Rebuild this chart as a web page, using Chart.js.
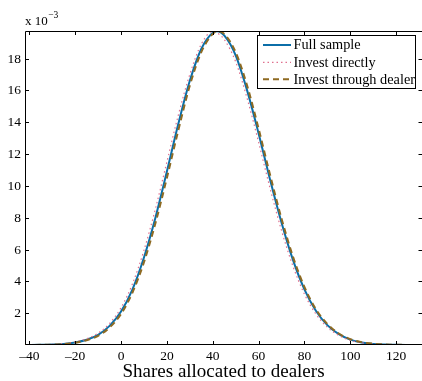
<!DOCTYPE html>
<html>
<head>
<meta charset="utf-8">
<script src="https://cdn.jsdelivr.net/npm/chart.js@4/dist/chart.umd.min.js"></script>
<style>
html,body{margin:0;padding:0;background:#fff;}
#wrap{position:relative;width:422px;height:381px;}
</style>
</head>
<body>
<div id="wrap"><canvas id="c" width="422" height="381"></canvas></div>
<script>
// x positions (shares allocated to dealers)
const xValues = [-42, -40, -35, -30, -25, -20, -15, -10, -5, 0, 5, 10, 15, 20, 25, 30, 35, 40, 42, 45, 50, 55, 60, 65, 70, 75, 80, 85, 90, 95, 100, 105, 110, 115, 120, 125, 130, 132];
// densities, in units of 10^-3
const fullSample = [0.004, 0.005, 0.012, 0.03, 0.07, 0.16, 0.33, 0.64, 1.2, 2.1, 3.5, 5.5, 8.0, 10.9, 13.9, 16.6, 18.6, 19.62, 19.72, 19.45, 18.2, 16.0, 13.3, 10.4, 7.7, 5.35, 3.5, 2.15, 1.25, 0.68, 0.34, 0.16, 0.07, 0.03, 0.012, 0.005, 0.002, 0.0015];
const investDirectly = [0.005, 0.006, 0.015, 0.036, 0.085, 0.19, 0.39, 0.75, 1.35, 2.35, 3.85, 5.95, 8.55, 11.5, 14.45, 17.0, 18.9, 19.7, 19.6, 19.2, 17.8, 15.5, 12.75, 9.85, 7.2, 4.95, 3.2, 1.95, 1.12, 0.6, 0.3, 0.14, 0.06, 0.025, 0.01, 0.004, 0.0015, 0.001];
const investDealer = [0.003, 0.004, 0.01, 0.026, 0.062, 0.14, 0.3, 0.58, 1.1, 1.95, 3.3, 5.2, 7.65, 10.5, 13.5, 16.3, 18.4, 19.55, 19.72, 19.55, 18.4, 16.3, 13.6, 10.7, 7.95, 5.55, 3.65, 2.25, 1.32, 0.72, 0.37, 0.18, 0.08, 0.033, 0.013, 0.005, 0.002, 0.0018];
const seriesNames = ['Full sample', 'Invest directly', 'Invest through dealer'];
const xTicks = [-40, -20, 0, 20, 40, 60, 80, 100, 120];
const yTicks = [2, 4, 6, 8, 10, 12, 14, 16, 18];
const xTitle = 'Shares allocated to dealers';

const toPts = arr => xValues.map((x, i) => ({x: x, y: arr[i]}));
const COLORS = ['#0b6ea8', '#e0708e', '#8e6a22'];
const FONT = '"Liberation Serif", "Times New Roman", serif';

const axesPlugin = {
  id: 'matlabAxes',
  afterDraw(chart) {
    const ctx = chart.ctx;
    const a = chart.chartArea;
    const xs = chart.scales.x, ys = chart.scales.y;
    const rightX = 422.5; // right axis line sits just outside the canvas
    ctx.save();
    ctx.strokeStyle = '#000';
    ctx.lineWidth = 1;
    // box
    ctx.beginPath();
    ctx.moveTo(a.left + 0.5, a.top + 0.5);
    ctx.lineTo(rightX, a.top + 0.5);
    ctx.lineTo(rightX, a.bottom - 0.5);
    ctx.lineTo(a.left + 0.5, a.bottom - 0.5);
    ctx.closePath();
    ctx.stroke();
    // ticks
    const tl = 4;
    ctx.beginPath();
    xTicks.forEach(v => {
      const px = Math.round(xs.getPixelForValue(v)) + 0.5;
      ctx.moveTo(px, a.bottom); ctx.lineTo(px, a.bottom - tl);
      ctx.moveTo(px, a.top); ctx.lineTo(px, a.top + tl);
    });
    yTicks.forEach(v => {
      const py = Math.round(ys.getPixelForValue(v)) + 0.5;
      ctx.moveTo(a.left, py); ctx.lineTo(a.left + tl, py);
      ctx.moveTo(rightX, py); ctx.lineTo(rightX - tl, py);
    });
    ctx.stroke();
    // tick labels
    ctx.fillStyle = '#000';
    ctx.font = '13.5px ' + FONT;
    ctx.textAlign = 'center';
    ctx.textBaseline = 'top';
    xTicks.forEach(v => {
      const px = xs.getPixelForValue(v);
      const s = v < 0 ? '\u2013' + Math.abs(v) : String(v);
      ctx.fillText(s, px, a.bottom + 5);
    });
    ctx.textAlign = 'right';
    ctx.textBaseline = 'middle';
    yTicks.forEach(v => {
      ctx.fillText(String(v), a.left - 4, ys.getPixelForValue(v) + 0.5);
    });
    // exponent
    ctx.textAlign = 'left';
    ctx.textBaseline = 'alphabetic';
    ctx.font = '13px ' + FONT;
    ctx.fillText('x 10', a.left, a.top - 6);
    const w = ctx.measureText('x 10').width;
    ctx.font = '9.5px ' + FONT;
    ctx.fillText('\u22123', a.left + w + 0.5, a.top - 13);
    // x title
    ctx.font = '19px ' + FONT;
    ctx.textAlign = 'center';
    ctx.fillText(xTitle, (a.left + 422) / 2, 377);
    // legend
    const lx = 257.5, ly = 35.5, lw = 158, lh = 53;
    ctx.fillStyle = '#fff';
    ctx.fillRect(lx, ly, lw, lh);
    ctx.strokeStyle = '#000';
    ctx.lineWidth = 1;
    ctx.strokeRect(lx, ly, lw, lh);
    const rows = [45, 62.3, 79.3];
    const dashes = [[], [1.5, 3], [6, 4]];
    const widths = [2, 1.2, 2];
    ctx.font = '14.3px ' + FONT;
    ctx.textAlign = 'left';
    ctx.textBaseline = 'middle';
    seriesNames.forEach((n, i) => {
      ctx.beginPath();
      ctx.setLineDash(dashes[i]);
      ctx.strokeStyle = COLORS[i];
      ctx.lineWidth = widths[i];
      ctx.moveTo(263, rows[i]); ctx.lineTo(291, rows[i]);
      ctx.stroke();
      ctx.setLineDash([]);
      ctx.fillStyle = '#000';
      ctx.fillText(n, 293.5, rows[i] + 0.5);
    });
    ctx.restore();
  }
};

new Chart(document.getElementById('c'), {
  type: 'line',
  data: {
    datasets: [
      {label: seriesNames[0], data: toPts(fullSample), borderColor: COLORS[0], borderWidth: 2, pointRadius: 0, cubicInterpolationMode: 'monotone', fill: false, order: 2},
      {label: seriesNames[1], data: toPts(investDirectly), borderColor: COLORS[1], borderWidth: 1.2, borderDash: [1.5, 3], pointRadius: 0, cubicInterpolationMode: 'monotone', fill: false, order: 1},
      {label: seriesNames[2], data: toPts(investDealer), borderColor: COLORS[2], borderWidth: 2, borderDash: [6, 4], pointRadius: 0, cubicInterpolationMode: 'monotone', fill: false, order: 0}
    ]
  },
  options: {
    responsive: false,
    animation: false,
    devicePixelRatio: 1,
    layout: {padding: {left: 25, top: 31, right: 0, bottom: 36}},
    plugins: {legend: {display: false}, tooltip: {enabled: false}},
    scales: {
      x: {type: 'linear', min: -41.9, max: 131.3, display: false},
      y: {type: 'linear', min: 0, max: 19.73, display: false}
    }
  },
  plugins: [axesPlugin]
});
</script>
</body>
</html>
